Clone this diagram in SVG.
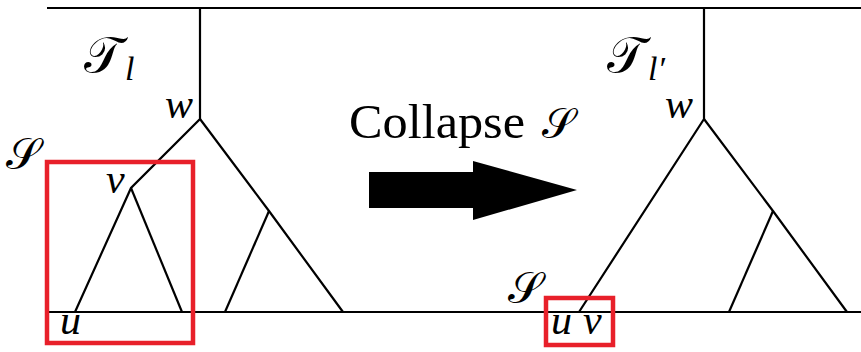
<svg xmlns="http://www.w3.org/2000/svg" width="861" height="352" viewBox="0 0 861 352">
<style>
.e{stroke:#000;stroke-width:2.2;fill:none;stroke-linecap:butt}
.box{stroke:#e8202a;stroke-width:4.5;fill:none}
.m{font-family:'Liberation Serif','DejaVu Serif',serif;font-style:italic;fill:#000}
.s{font-family:'DejaVu Sans',serif;fill:#000}
.t{font-family:'Liberation Serif','DejaVu Serif',serif;fill:#000}
</style>
<rect width="861" height="352" fill="#fff"/>
<g id="connectors">
<line class="e" x1="47" y1="8" x2="861" y2="8"/>
<line class="e" x1="47" y1="312" x2="861" y2="312"/>
<polyline class="e" points="200,8 200,119 131,188 75,312"/>
<line class="e" x1="131" y1="188" x2="182" y2="312"/>
<polyline class="e" points="200,119 269,211 343,312"/>
<line class="e" x1="269" y1="211" x2="225" y2="312"/>
<polyline class="e" points="704,8 704,119 579,312"/>
<polyline class="e" points="704,119 773,211 847,312"/>
<line class="e" x1="773" y1="211" x2="729" y2="312"/>
</g>
<g id="left-tree">
<text class="s" x="84" y="72" font-size="50">𝒯</text>
<text class="m" x="125" y="80" font-size="34">l</text>
<text class="m" x="165" y="118" font-size="42">w</text>
<text class="s" x="6" y="169" font-size="44">𝒮</text>
<text class="m" x="106" y="193" font-size="42">v</text>
<text class="m" x="60" y="334" font-size="42">u</text>
<rect class="box" x="47" y="162" width="146" height="181"/>
</g>
<g id="collapse">
<text class="t" x="349" y="138" font-size="48" textLength="176" lengthAdjust="spacingAndGlyphs">Collapse</text>
<text class="s" x="542" y="138" font-size="42">𝒮</text>
<polygon points="369,172 473,172 473,161 577,190 473,220 473,208 369,208" fill="#000"/>
</g>
<g id="right-tree">
<text class="s" x="607" y="72" font-size="50">𝒯</text>
<text class="m" x="648" y="80" font-size="34">l′</text>
<text class="m" x="665" y="118" font-size="42">w</text>
<text class="s" x="508" y="303" font-size="44">𝒮</text>
<text class="m" x="551" y="334" font-size="42">u</text>
<text class="m" x="583" y="334" font-size="42">v</text>
<rect class="box" x="546" y="298" width="67" height="47"/>
</g>
</svg>
